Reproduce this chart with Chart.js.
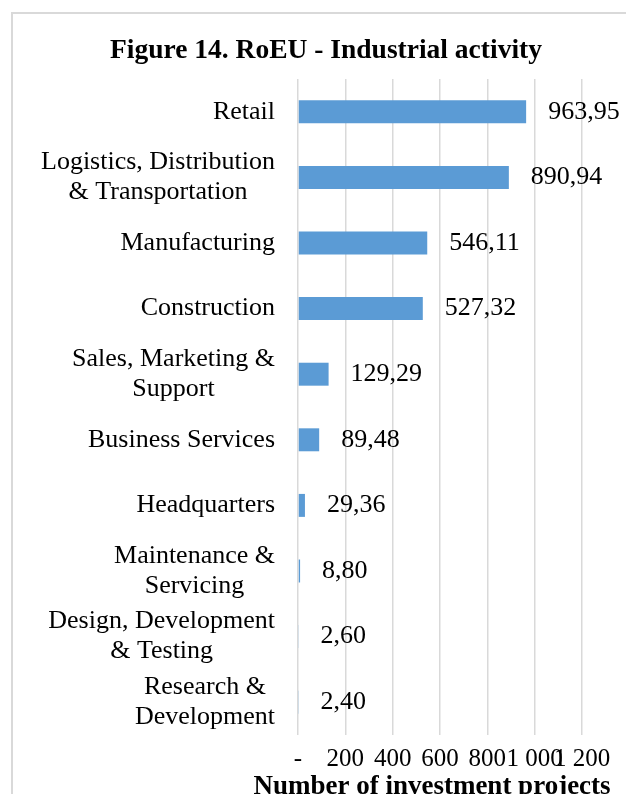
<!DOCTYPE html>
<html>
<head>
<meta charset="utf-8">
<script src="https://cdn.jsdelivr.net/npm/chart.js@4.4.1/dist/chart.umd.min.js"></script>
<style>
  html, body { margin: 0; padding: 0; background: #fff; overflow: hidden; }
  .frame { position: absolute; left: 11px; top: 12px; width: 700px; height: 900px; border: 2px solid #d9d9d9; }
  .wrap { position: absolute; left: 0; top: 0; width: 652px; height: 820px; }
</style>
</head>
<body>
<div class="frame"></div>
<div class="wrap"><canvas id="chart"></canvas></div>
<script>
// categories (top to bottom) and number of investment projects
const categories = [
  ['Retail'],
  ['Logistics, Distribution', '& Transportation'],
  ['Manufacturing'],
  ['Construction'],
  ['Sales, Marketing &', 'Support'],
  ['Business Services'],
  ['Headquarters'],
  ['Maintenance &', 'Servicing'],
  ['Design, Development', '& Testing'],
  ['Research &', 'Development']
];
const projects = [963.95, 890.94, 546.11, 527.32, 129.29, 89.48, 29.36, 8.80, 2.60, 2.40];
const xTicks = ['-', '200', '400', '600', '800', '1 000', '1 200'];
const xTitle = 'Number of investment projects';

const serif = '"Liberation Serif", "DejaVu Serif", serif';

// y labels: block right-aligned, lines centred inside the block (like Excel)
const yLabels = {
  id: 'yLabels',
  afterDraw(chart) {
    const ctx = chart.ctx;
    const scale = chart.scales.y;
    const right = chart.chartArea.left - 23;
    ctx.save();
    ctx.font = '26px ' + serif;
    ctx.fillStyle = '#000';
    ctx.textAlign = 'center';
    ctx.textBaseline = 'middle';
    categories.forEach((lines, i) => {
      const y = scale.getPixelForTick(i);
      const w = Math.max(...lines.map(l => ctx.measureText(l).width));
      const cx = right - w / 2;
      lines.forEach((line, j) => {
        ctx.fillText(line, cx, y + (j - (lines.length - 1) / 2) * 30);
      });
    });
    // x axis title, wider than the plot so drawn without maxWidth
    ctx.font = 'bold 27px ' + serif;
    ctx.fillText(xTitle, (chart.chartArea.left + chart.chartArea.right) / 2 - 8, chart.chartArea.bottom + 52);
    ctx.restore();
  }
};

// value labels to the right of each bar
const valueLabels = {
  id: 'valueLabels',
  afterDatasetsDraw(chart) {
    const ctx = chart.ctx;
    const meta = chart.getDatasetMeta(0);
    ctx.save();
    ctx.font = '26px ' + serif;
    ctx.fillStyle = '#000';
    ctx.textAlign = 'left';
    ctx.textBaseline = 'middle';
    meta.data.forEach((bar, i) => {
      ctx.fillText(projects[i].toFixed(2).replace('.', ','), bar.x + 22, bar.y);
    });
    ctx.restore();
  }
};

const ctx = document.getElementById('chart').getContext('2d');
new Chart(ctx, {
  type: 'bar',
  data: {
    labels: categories,
    datasets: [{
      data: projects,
      backgroundColor: '#5b9bd5',
      borderWidth: 0,
      categoryPercentage: 1,
      barPercentage: 0.35
    }]
  },
  options: {
    indexAxis: 'y',
    responsive: true,
    maintainAspectRatio: false,
    animation: false,
    layout: { padding: { left: 70, right: 70, top: 0, bottom: 0 } },
    plugins: {
      legend: { display: false },
      tooltip: { enabled: false },
      title: {
        display: true,
        text: 'Figure 14. RoEU - Industrial activity',
        color: '#000',
        font: { family: serif, size: 27.5, weight: 'bold' },
        padding: { top: 34, bottom: 12 }
      }
    },
    scales: {
      x: {
        min: 0,
        max: 1200,
        afterFit: (s) => { s.height = 85; },
        grid: { color: '#d9d9d9', lineWidth: 1.5, drawTicks: false },
        border: { display: false },
        ticks: {
          stepSize: 200,
          padding: 9,
          color: '#000',
          font: { family: serif, size: 25 },
          maxRotation: 0,
          autoSkip: false,
          callback: (v, i) => xTicks[i]
        }
      },
      y: {
        afterFit: (s) => { s.width = 228; },
        grid: { display: false },
        border: { display: false },
        ticks: { display: false }
      }
    }
  },
  plugins: [yLabels, valueLabels]
});
</script>
</body>
</html>
